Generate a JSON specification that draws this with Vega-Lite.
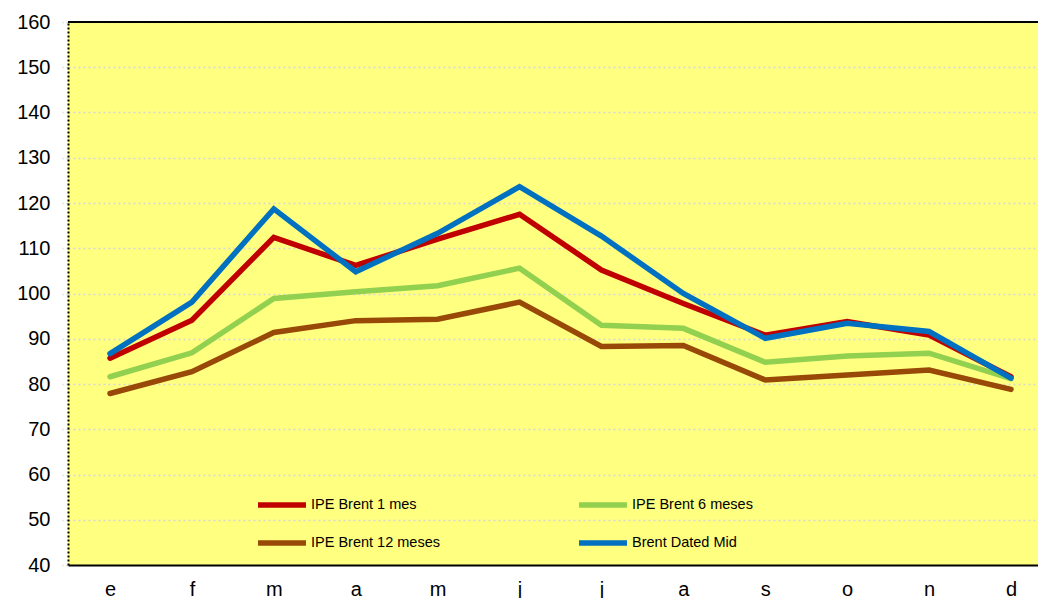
{
  "$schema": "https://vega.github.io/schema/vega-lite/v6.json",
  "width": 970,
  "height": 543,
  "autosize": {"type": "none"},
  "padding": {"left": 68, "top": 22, "right": 0, "bottom": 33},
  "background": "white",
  "config": {
    "font": "Liberation Sans",
    "view": {"fill": "#FFFF80", "stroke": null}
  },
  "data": {
    "values": [
      {"mes": 1, "serie": "IPE Brent 1 mes", "valor": 85.7},
      {"mes": 2, "serie": "IPE Brent 1 mes", "valor": 94.1},
      {"mes": 3, "serie": "IPE Brent 1 mes", "valor": 112.4},
      {"mes": 4, "serie": "IPE Brent 1 mes", "valor": 106.2},
      {"mes": 5, "serie": "IPE Brent 1 mes", "valor": 112.0},
      {"mes": 6, "serie": "IPE Brent 1 mes", "valor": 117.5},
      {"mes": 7, "serie": "IPE Brent 1 mes", "valor": 105.2},
      {"mes": 8, "serie": "IPE Brent 1 mes", "valor": 97.8},
      {"mes": 9, "serie": "IPE Brent 1 mes", "valor": 90.8},
      {"mes": 10, "serie": "IPE Brent 1 mes", "valor": 93.8},
      {"mes": 11, "serie": "IPE Brent 1 mes", "valor": 90.8},
      {"mes": 12, "serie": "IPE Brent 1 mes", "valor": 81.6},
      {"mes": 1, "serie": "IPE Brent 6 meses", "valor": 81.6},
      {"mes": 2, "serie": "IPE Brent 6 meses", "valor": 86.9},
      {"mes": 3, "serie": "IPE Brent 6 meses", "valor": 98.9},
      {"mes": 4, "serie": "IPE Brent 6 meses", "valor": 100.4},
      {"mes": 5, "serie": "IPE Brent 6 meses", "valor": 101.7},
      {"mes": 6, "serie": "IPE Brent 6 meses", "valor": 105.6},
      {"mes": 7, "serie": "IPE Brent 6 meses", "valor": 93.0},
      {"mes": 8, "serie": "IPE Brent 6 meses", "valor": 92.3},
      {"mes": 9, "serie": "IPE Brent 6 meses", "valor": 84.8},
      {"mes": 10, "serie": "IPE Brent 6 meses", "valor": 86.2},
      {"mes": 11, "serie": "IPE Brent 6 meses", "valor": 86.8},
      {"mes": 12, "serie": "IPE Brent 6 meses", "valor": 81.2},
      {"mes": 1, "serie": "IPE Brent 12 meses", "valor": 77.9},
      {"mes": 2, "serie": "IPE Brent 12 meses", "valor": 82.7},
      {"mes": 3, "serie": "IPE Brent 12 meses", "valor": 91.4},
      {"mes": 4, "serie": "IPE Brent 12 meses", "valor": 94.0},
      {"mes": 5, "serie": "IPE Brent 12 meses", "valor": 94.3},
      {"mes": 6, "serie": "IPE Brent 12 meses", "valor": 98.1},
      {"mes": 7, "serie": "IPE Brent 12 meses", "valor": 88.3},
      {"mes": 8, "serie": "IPE Brent 12 meses", "valor": 88.5},
      {"mes": 9, "serie": "IPE Brent 12 meses", "valor": 80.9},
      {"mes": 10, "serie": "IPE Brent 12 meses", "valor": 82.0},
      {"mes": 11, "serie": "IPE Brent 12 meses", "valor": 83.1},
      {"mes": 12, "serie": "IPE Brent 12 meses", "valor": 78.8},
      {"mes": 1, "serie": "Brent Dated Mid", "valor": 86.7},
      {"mes": 2, "serie": "Brent Dated Mid", "valor": 98.1},
      {"mes": 3, "serie": "Brent Dated Mid", "valor": 118.7},
      {"mes": 4, "serie": "Brent Dated Mid", "valor": 104.8},
      {"mes": 5, "serie": "Brent Dated Mid", "valor": 113.3},
      {"mes": 6, "serie": "Brent Dated Mid", "valor": 123.6},
      {"mes": 7, "serie": "Brent Dated Mid", "valor": 112.7},
      {"mes": 8, "serie": "Brent Dated Mid", "valor": 100.0},
      {"mes": 9, "serie": "Brent Dated Mid", "valor": 90.1},
      {"mes": 10, "serie": "Brent Dated Mid", "valor": 93.4},
      {"mes": 11, "serie": "Brent Dated Mid", "valor": 91.6},
      {"mes": 12, "serie": "Brent Dated Mid", "valor": 81.3}
    ]
  },
  "layer": [
    {
      "mark": {"type": "line", "strokeWidth": 5.5, "strokeCap": "round", "strokeJoin": "miter"},
      "encoding": {
        "x": {
          "field": "mes", "type": "quantitative",
          "scale": {"domain": [0.487, 12.33], "nice": false, "zero": false},
          "axis": {
            "title": null,
            "values": [1, 2, 3, 4, 5, 6, 7, 8, 9, 10, 11, 12],
            "labelExpr": "['e','f','m','a','m','j','j','a','s','o','n','d'][datum.value - 1]",
            "labelFontSize": 20,
            "labelColor": "black",
            "labelPadding": 14,
            "labelFlush": false,
            "labelOverlap": false,
            "ticks": false,
            "domainColor": "black",
            "domainWidth": 2,
            "grid": false
          }
        },
        "y": {
          "field": "valor", "type": "quantitative",
          "scale": {"domain": [40, 160], "nice": false, "zero": false},
          "axis": {
            "title": null,
            "values": [40, 50, 60, 70, 80, 90, 100, 110, 120, 130, 140, 150, 160],
            "labelFontSize": 20,
            "labelColor": "black",
            "labelPadding": 12,
            "labelFlush": false,
            "labelOverlap": false,
            "tickSize": 6,
            "tickColor": "#d0d0d0",
            "tickWidth": 1.5,
            "tickDash": [2, 3],
            "domainColor": "black",
            "domainWidth": 2,
            "domainDash": [2, 2],
            "grid": true,
            "gridColor": "#d6d6d6",
            "gridWidth": 1.5,
            "gridDash": [2, 3]
          }
        },
        "color": {
          "field": "serie", "type": "nominal",
          "scale": {
            "domain": ["IPE Brent 1 mes", "IPE Brent 6 meses", "IPE Brent 12 meses", "Brent Dated Mid"],
            "range": ["#C00000", "#92D050", "#984807", "#0070C0"]
          },
          "legend": {
            "title": null,
            "orient": "none",
            "legendX": 187,
            "legendY": 456,
            "columns": 2,
            "direction": "horizontal",
            "columnPadding": 128,
            "rowPadding": -9,
            "symbolType": "stroke",
            "symbolSize": 2300,
            "symbolStrokeWidth": 5.5,
            "labelFontSize": 14.5,
            "labelColor": "black",
            "labelOffset": 2,
            "labelLimit": 300
          }
        }
      }
    },
    {
      "mark": {"type": "rule", "color": "black", "strokeWidth": 2},
      "encoding": {"y": {"datum": 160}}
    }
  ]
}
